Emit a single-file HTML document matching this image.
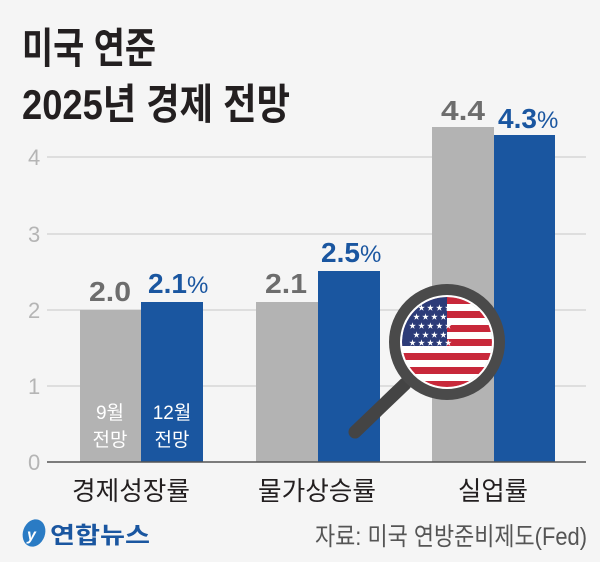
<!DOCTYPE html>
<html><head><meta charset="utf-8"><style>
body{margin:0;background:#f5f5f5;}
svg{display:block;font-family:"Liberation Sans","Noto Sans CJK KR",sans-serif;}
</style></head><body>
<svg width="600" height="562" viewBox="0 0 600 562">
<rect width="600" height="562" fill="#f5f5f5"/>
<text x="22" y="63" font-size="42" font-weight="bold" fill="#231f20" textLength="134" lengthAdjust="spacingAndGlyphs">미국 연준</text>
<text x="22" y="119" font-size="42" font-weight="bold" fill="#231f20" textLength="268" lengthAdjust="spacingAndGlyphs">2025년 경제 전망</text>
<g stroke="#c8c8c8" stroke-width="1">
<line x1="47" y1="386" x2="586" y2="386"/><line x1="47" y1="310" x2="586" y2="310"/>
<line x1="47" y1="234" x2="586" y2="234"/><line x1="47" y1="157" x2="586" y2="157"/>
</g>
<g font-size="22" fill="#b5b5b5">
<text x="28" y="470">0</text><text x="28" y="394">1</text><text x="28" y="318">2</text><text x="28" y="242">3</text><text x="28" y="165">4</text>
</g>
<g fill="#b3b3b3">
<rect x="80" y="310" width="61" height="152"/><rect x="256" y="302" width="62" height="160"/><rect x="432" y="127" width="62" height="335"/>
</g>
<g fill="#1a56a0">
<rect x="141" y="302" width="62" height="160"/><rect x="318" y="271" width="62" height="191"/><rect x="494" y="135" width="61" height="327"/>
</g>
<line x1="47" y1="462" x2="586" y2="462" stroke="#555" stroke-width="1.5"/>
<g font-size="28" font-weight="bold">
<text x="89" y="301" fill="#6d6d6d" textLength="42" lengthAdjust="spacingAndGlyphs">2.0</text>
<text x="148" y="293" fill="#1a56a0">2.1<tspan font-weight="normal" font-size="24">%</tspan></text>
<text x="265" y="293" fill="#6d6d6d" textLength="42" lengthAdjust="spacingAndGlyphs">2.1</text>
<text x="321" y="262" fill="#1a56a0">2.5<tspan font-weight="normal" font-size="24">%</tspan></text>
<text x="441" y="120" fill="#6d6d6d" textLength="44" lengthAdjust="spacingAndGlyphs">4.4</text>
<text x="498" y="128" fill="#1a56a0">4.3<tspan font-weight="normal" font-size="24">%</tspan></text>
</g>
<g font-size="19" fill="#fff" text-anchor="middle">
<text x="110" y="419">9월</text><text x="110" y="446">전망</text>
<text x="172" y="419">12월</text><text x="172" y="446">전망</text>
</g>
<g font-size="26" fill="#231f20">
<text x="72" y="500" textLength="118" lengthAdjust="spacingAndGlyphs">경제성장률</text>
<text x="258" y="500" textLength="118" lengthAdjust="spacingAndGlyphs">물가상승률</text>
<text x="458" y="500" textLength="70" lengthAdjust="spacingAndGlyphs">실업률</text>
</g>
<!-- magnifier -->
<line x1="405" y1="384" x2="355" y2="432" stroke="#444" stroke-width="13" stroke-linecap="round"/>
<circle cx="447" cy="342" r="52" fill="none" stroke="#4a4a4a" stroke-width="12"/>
<clipPath id="c"><circle cx="447" cy="342" r="45"/></clipPath>
<g clip-path="url(#c)">
<rect x="400" y="295" width="95" height="95" fill="#fff"/>
<g fill="#c8283a">
<rect x="400" y="297" width="95" height="7"/><rect x="400" y="311" width="95" height="7"/><rect x="400" y="325" width="95" height="7"/>
<rect x="400" y="339" width="95" height="7"/><rect x="400" y="353" width="95" height="7"/><rect x="400" y="367" width="95" height="7"/><rect x="400" y="381" width="95" height="7"/>
</g>
<rect x="400" y="297" width="47" height="49" fill="#2c3b78"/>
<g fill="#fff" font-size="7">
<text x="409" y="310">★ ★ ★ ★ ★</text><text x="413" y="319">★ ★ ★ ★</text><text x="409" y="328">★ ★ ★ ★ ★</text><text x="413" y="337">★ ★ ★ ★</text><text x="409" y="345">★ ★ ★ ★ ★</text>
</g>
</g>
<circle cx="447" cy="342" r="46" fill="none" stroke="#fff" stroke-width="2"/>
<!-- footer -->
<ellipse cx="34" cy="533" rx="11" ry="14" fill="#2a7bc4" transform="rotate(20 34 533)"/>
<text x="27" y="540" font-size="16" font-weight="bold" fill="#fff" font-style="italic">y</text>
<text x="50" y="543" font-size="23" font-weight="bold" fill="#1a56a0" textLength="100" lengthAdjust="spacingAndGlyphs">연합뉴스</text>
<text x="315" y="545" font-size="25" fill="#555" textLength="272" lengthAdjust="spacingAndGlyphs">자료: 미국 연방준비제도(Fed)</text>
</svg>
</body></html>
